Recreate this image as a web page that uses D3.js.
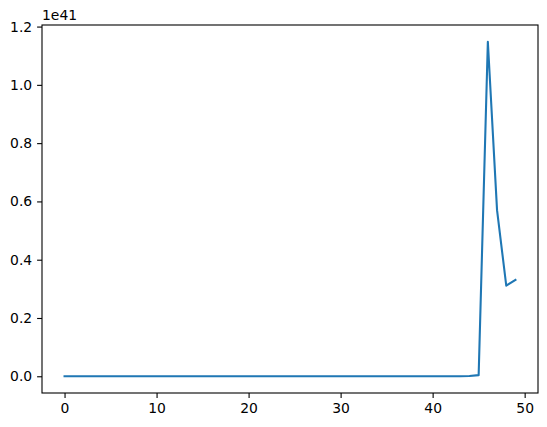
<!doctype html>
<html>
<head>
<style type="text/css">
body { margin: 0; background: #fff; }
svg { display: block; font-family: "DejaVu Sans", sans-serif; }
</style>
<script src="https://cdnjs.cloudflare.com/ajax/libs/d3/7.8.5/d3.min.js"></script>
</head>
<body>
<script type="text/javascript">
var width = 547, height = 427;
var margin = {top: 25, right: 9, bottom: 34, left: 42};

// values in units of 1e41, index 0..49
var xs = d3.range(50);
var ys = [0,0,0,0,0,0,0,0,0,0,
          0,0,0,0,0,0,0,0,0,0,
          0,0,0,0,0,0,0,0,0,0,
          0,0,0,0,0,0,0,0,0,0,
          0,0,0,0.0002,0.0008,0.004,1.148,0.570,0.311,0.331];
var xTicks = [0, 10, 20, 30, 40, 50];
var yTicks = [0, 0.2, 0.4, 0.6, 0.8, 1.0, 1.2];
var offsetLabel = "1e41";

var svg = d3.select("body").append("svg")
	.attr("width", width)
	.attr("height", height);

var x = d3.scaleLinear().domain([-2.45, 51.45]).range([margin.left, width - margin.right]);
var ymax = d3.max(ys), ymin = d3.min(ys), pad = (ymax - ymin) * 0.05;
var y = d3.scaleLinear().domain([ymin - pad, ymax + pad]).range([height - margin.bottom, margin.top]);

var g = svg.append("g");

// line
g.append("path")
	.datum(xs)
	.attr("fill", "none")
	.attr("stroke", "#1f77b4")
	.attr("stroke-width", 2.08)
	.attr("stroke-linejoin", "round")
	.attr("stroke-linecap", "square")
	.attr("d", d3.line().x(function(d) { return x(d); }).y(function(d, i) { return y(ys[i]); }));

// frame
g.append("rect")
	.attr("x", margin.left).attr("y", margin.top)
	.attr("width", width - margin.right - margin.left)
	.attr("height", height - margin.bottom - margin.top)
	.attr("fill", "none").attr("stroke", "#000").attr("stroke-width", 1.1);

var xAxis = svg.append("g")
	.attr("transform", "translate(0," + (height - margin.bottom) + ")")
	.call(d3.axisBottom(x).tickValues(xTicks).tickSize(4.9).tickPadding(4.9).tickFormat(d3.format("d")));
var yAxis = svg.append("g")
	.attr("transform", "translate(" + margin.left + ",0)")
	.call(d3.axisLeft(y).tickValues(yTicks).tickSize(4.9).tickPadding(4.9).tickFormat(d3.format(".1f")));

[xAxis, yAxis].forEach(function(a) {
	a.select(".domain").remove();
	a.selectAll("line").attr("stroke", "#000").attr("stroke-width", 1.1);
	a.selectAll("text").attr("fill", "#000").style("font-size", "13.9px").style("font-family", "DejaVu Sans");
});

svg.append("text")
	.attr("x", margin.left)
	.attr("y", margin.top - 5)
	.style("font-size", "13.9px")
	.text(offsetLabel);
</script>
</body>
</html>
